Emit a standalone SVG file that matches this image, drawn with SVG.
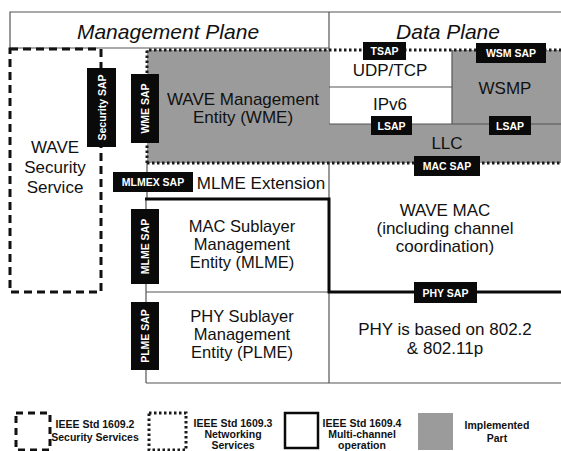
<svg xmlns="http://www.w3.org/2000/svg" width="561" height="451" viewBox="0 0 561 451">
<style>
.t{font-family:"Liberation Sans",Arial,sans-serif;font-size:17px;fill:#111;text-anchor:middle}
.m{font-size:16.5px}
.pl{font-family:"Liberation Sans",Arial,sans-serif;font-size:21px;font-style:italic;fill:#111;text-anchor:middle}
.sap{fill:#0a0a0a}
.st{font-family:"Liberation Sans",Arial,sans-serif;font-size:10.5px;font-weight:bold;fill:#fff;text-anchor:middle;dominant-baseline:central}
.lg{font-family:"Liberation Sans",Arial,sans-serif;font-size:10.5px;font-weight:bold;fill:#111;text-anchor:middle}
.thin{stroke:#555;stroke-width:1.2;fill:none}
.dot{stroke:#1a1a1a;stroke-width:3;fill:none;stroke-dasharray:2.5 2.5}
.dash{stroke:#111;stroke-width:3;fill:none;stroke-dasharray:8 5}
.thick{stroke:#0a0a0a;stroke-width:3;fill:none}
.gray{fill:#9b9b9b}
</style>
<rect width="561" height="451" fill="#fff"/>
<g id="frame">
<path class="thin" d="M10,48 V12 H561 M10,48 H329 M329,12 V383"/>
</g>
<g id="wme"><rect class="gray" x="147" y="50" width="182" height="113"/>
<text class="t" x="243" y="105">WAVE Management</text><text class="t" x="243" y="123">Entity (WME)</text></g>
<g id="wsmp"><rect class="gray" x="452" y="50" width="109" height="74"/><text class="t" x="505" y="94">WSMP</text></g>
<g id="llc"><rect class="gray" x="329" y="124" width="232" height="39"/><text class="t" x="447" y="149">LLC</text></g>
<g id="udp"><text class="t" x="390" y="76">UDP/TCP</text></g>
<g id="ipv6"><text class="t" x="390" y="110">IPv6</text></g>
<g id="lines">
<path class="thin" d="M329,87 H452 M329,124 H561 M452,50 V124 M147,163 V199 M146,199 V383 M146,292 H329 M146,383 H561"/>
<path class="dot" d="M147,163 V50 H561 M147,163 H561"/>
<path class="thick" d="M145,199 H329 V292 H561"/>
</g>
<g id="security"><rect class="dash" x="10" y="49" width="91" height="243"/>
<text class="t" x="55" y="153">WAVE</text><text class="t" x="55" y="173">Security</text><text class="t" x="55" y="193">Service</text></g>
<g id="mlmex"><text class="t" x="261" y="189">MLME Extension</text></g>
<g id="mlme"><text class="t m" x="242" y="232">MAC Sublayer</text><text class="t m" x="242" y="250">Management</text><text class="t m" x="242" y="268">Entity (MLME)</text></g>
<g id="plme"><text class="t m" x="242" y="322">PHY Sublayer</text><text class="t m" x="242" y="340">Management</text><text class="t m" x="242" y="358">Entity (PLME)</text></g>
<g id="wavemac"><text class="t" x="445" y="216">WAVE MAC</text><text class="t" x="445" y="234">(including channel</text><text class="t" x="445" y="252">coordination)</text></g>
<g id="phy"><text class="t" x="445" y="335">PHY is based on 802.2</text><text class="t" x="445" y="354">&amp; 802.11p</text></g>
<g id="planes"><text class="pl" x="168" y="39">Management Plane</text><text class="pl" x="448" y="39">Data Plane</text></g>
<g id="saps">
<rect class="sap" x="87" y="68" width="29" height="79"/><text class="st" transform="translate(101.5,107.5) rotate(-90)">Security SAP</text>
<rect class="sap" x="131" y="74" width="28" height="69"/><text class="st" transform="translate(145,108.5) rotate(-90)">WME SAP</text>
<rect class="sap" x="113" y="172" width="80" height="20"/><text class="st" x="153" y="182">MLMEX SAP</text>
<rect class="sap" x="131" y="209" width="28" height="75"/><text class="st" transform="translate(145,246.5) rotate(-90)">MLME SAP</text>
<rect class="sap" x="131" y="302" width="28" height="68"/><text class="st" transform="translate(145,336) rotate(-90)">PLME SAP</text>
<rect class="sap" x="363" y="42" width="43" height="18"/><text class="st" x="384.5" y="51">TSAP</text>
<rect class="sap" x="476" y="43" width="70" height="20"/><text class="st" x="511" y="53">WSM SAP</text>
<rect class="sap" x="371" y="116" width="41" height="19"/><text class="st" x="391.5" y="125.5">LSAP</text>
<rect class="sap" x="489" y="116" width="42" height="19"/><text class="st" x="510" y="125.5">LSAP</text>
<rect class="sap" x="414" y="156" width="66" height="20"/><text class="st" x="447" y="166">MAC SAP</text>
<rect class="sap" x="414" y="282" width="63" height="21"/><text class="st" x="445.5" y="292.5">PHY SAP</text>
</g>
<g id="legend">
<rect class="dash" x="16" y="413" width="34" height="37" style="stroke-dasharray:7 5"/>
<text class="lg" x="95" y="428">IEEE Std 1609.2</text><text class="lg" x="95" y="441">Security Services</text>
<rect class="dot" x="149" y="413" width="37" height="37"/>
<text class="lg" x="233" y="427">IEEE Std 1609.3</text><text class="lg" x="233" y="438">Networking</text><text class="lg" x="233" y="449">Services</text>
<rect class="thick" x="285" y="413" width="33" height="35" style="stroke-width:2.5"/>
<text class="lg" x="362" y="427">IEEE Std 1609.4</text><text class="lg" x="362" y="438">Multi-channel</text><text class="lg" x="362" y="449">operation</text>
<rect class="gray" x="418" y="413" width="35" height="37"/>
<text class="lg" x="497" y="429">Implemented</text><text class="lg" x="497" y="442">Part</text>
</g>
</svg>
